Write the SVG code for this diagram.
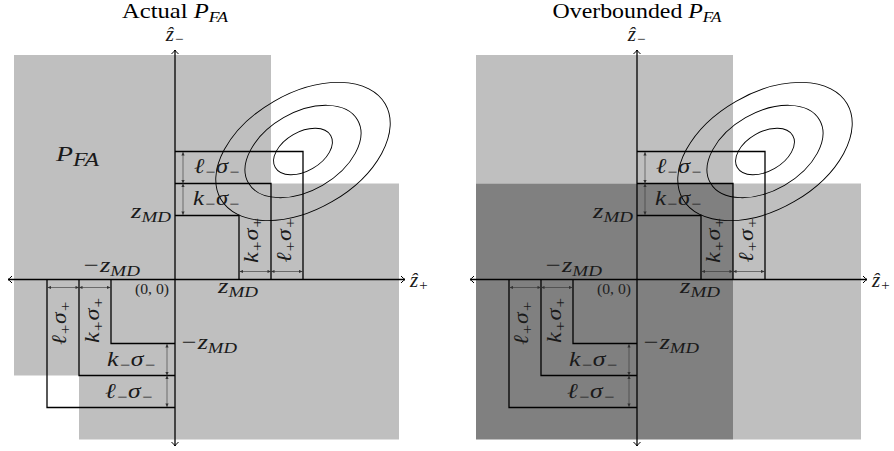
<svg xmlns="http://www.w3.org/2000/svg" width="894" height="451" viewBox="0 0 894 451">
<defs>
<style>
.t{font-family:"Liberation Serif","DejaVu Serif",serif;font-size:21px;fill:#000}
.m{font-family:"Liberation Serif","DejaVu Serif",serif;font-style:italic;font-size:21px;fill:#1a1a1a}
.s{font-size:15px}
.z{font-family:"Liberation Serif","DejaVu Serif",serif;font-size:15px;fill:#222}
.ln{fill:none;stroke:#000;stroke-width:1.3}
.dm{fill:none;stroke:#333;stroke-width:0.6;marker-start:url(#dh);marker-end:url(#dh)}
.el{fill:none;stroke:#000;stroke-width:0.9}
.ax{fill:none;stroke:#000;stroke-width:1.3;marker-start:url(#ah);marker-end:url(#ah)}
.lg{fill:#bfbfbf}
.dk{fill:#808080}
</style>
<marker id="ah" markerUnits="userSpaceOnUse" viewBox="-5 -5 6 10" refX="0" refY="0" markerWidth="6" markerHeight="10" orient="auto-start-reverse"><path d="M-4,-3.5 Q-1.5,-0.8 0,0 Q-1.5,0.8 -4,3.5" fill="none" stroke="#000" stroke-width="1"/></marker>
<marker id="dh" markerUnits="userSpaceOnUse" viewBox="-4 -2 4.5 4" refX="0" refY="0" markerWidth="4.5" markerHeight="4" orient="auto-start-reverse"><path d="M-3.5,-1.6 L0,0 L-3.5,1.6 Z" fill="#333"/></marker>
</defs>

<!-- LEFT PANEL: Actual -->
<g id="left-fills">
<path class="lg" d="M14,55 H271 V183.5 H399 V439.5 H79 V375.5 H14 Z"/>
</g>
<g id="left-ellipses">
<g transform="translate(303,151.5) rotate(-30)">
<ellipse class="el" rx="95" ry="58"/>
<ellipse class="el" rx="63" ry="39"/>
<ellipse class="el" rx="32" ry="19.5"/>
</g>
</g>
<g id="left-boxes">
<path class="ln" d="M175,151.5 H303 V279.5"/>
<path class="ln" d="M175,183.5 H271 V279.5"/>
<path class="ln" d="M175,215.5 H239 V279.5"/>
<path class="ln" d="M175,343.5 H111 V279.5"/>
<path class="ln" d="M175,375.5 H79 V279.5"/>
<path class="ln" d="M175,407.5 H47 V279.5"/>
</g>
<g id="left-dims">
<path class="dm" d="M183,152 V183.5"/>
<path class="dm" d="M183,183.5 V215"/>
<path class="dm" d="M239.5,271.5 H271"/>
<path class="dm" d="M271,271.5 H302.5"/>
<path class="dm" d="M47.5,287.5 H79"/>
<path class="dm" d="M79,287.5 H110.5"/>
<path class="dm" d="M167,344 V375.5"/>
<path class="dm" d="M167,375.5 V407"/>
</g>
<g id="left-axes">
<path class="ax" d="M8,279.5 H405"/>
<path class="ax" d="M175,50 V446"/>
</g>
<g id="left-labels">
<text class="t" x="175" y="17.5" text-anchor="middle" textLength="106" lengthAdjust="spacingAndGlyphs">Actual <tspan font-style="italic">P</tspan><tspan font-style="italic" class="s" dy="4">FA</tspan></text>
<text class="m" x="175" y="40.5" text-anchor="middle">ẑ<tspan class="s" dy="3">−</tspan></text>
<text class="m" x="410" y="287">ẑ<tspan class="s" dy="3">+</tspan></text>
<text class="m" x="56" y="161" font-size="31px" textLength="43" lengthAdjust="spacingAndGlyphs">P<tspan font-size="18px" dy="5">FA</tspan></text>
<text class="m" x="194" y="173" textLength="46" lengthAdjust="spacingAndGlyphs">ℓ<tspan class="s" dy="4">−</tspan><tspan dy="-4">σ</tspan><tspan class="s" dy="4">−</tspan></text>
<text class="m" x="193" y="205" textLength="47" lengthAdjust="spacingAndGlyphs">k<tspan class="s" dy="4">−</tspan><tspan dy="-4">σ</tspan><tspan class="s" dy="4">−</tspan></text>
<text class="m" x="171" y="218" text-anchor="end" textLength="40" lengthAdjust="spacingAndGlyphs">z<tspan class="s" dy="4">MD</tspan></text>
<text class="m" transform="translate(251,240) rotate(-90)" x="0" y="7" text-anchor="middle" textLength="46" lengthAdjust="spacingAndGlyphs">k<tspan class="s" dy="4">+</tspan><tspan dy="-4">σ</tspan><tspan class="s" dy="4">+</tspan></text>
<text class="m" transform="translate(284,240) rotate(-90)" x="0" y="7" text-anchor="middle" textLength="45" lengthAdjust="spacingAndGlyphs">ℓ<tspan class="s" dy="4">+</tspan><tspan dy="-4">σ</tspan><tspan class="s" dy="4">+</tspan></text>
<text class="m" x="82" y="272" textLength="58" lengthAdjust="spacingAndGlyphs">−z<tspan class="s" dy="4">MD</tspan></text>
<text class="m" x="218" y="293" textLength="40" lengthAdjust="spacingAndGlyphs">z<tspan class="s" dy="4">MD</tspan></text>
<text class="z" x="135" y="294" textLength="34" lengthAdjust="spacingAndGlyphs">(0, 0)</text>
<text class="m" x="180" y="349" textLength="57" lengthAdjust="spacingAndGlyphs">−z<tspan class="s" dy="4">MD</tspan></text>
<text class="m" x="107" y="366" textLength="49" lengthAdjust="spacingAndGlyphs">k<tspan class="s" dy="4">−</tspan><tspan dy="-4">σ</tspan><tspan class="s" dy="4">−</tspan></text>
<text class="m" x="105" y="398" textLength="48" lengthAdjust="spacingAndGlyphs">ℓ<tspan class="s" dy="4">−</tspan><tspan dy="-4">σ</tspan><tspan class="s" dy="4">−</tspan></text>
<text class="m" transform="translate(59,323) rotate(-90)" x="0" y="7" text-anchor="middle" textLength="44" lengthAdjust="spacingAndGlyphs">ℓ<tspan class="s" dy="4">+</tspan><tspan dy="-4">σ</tspan><tspan class="s" dy="4">+</tspan></text>
<text class="m" transform="translate(92,320) rotate(-90)" x="0" y="7" text-anchor="middle" textLength="46" lengthAdjust="spacingAndGlyphs">k<tspan class="s" dy="4">+</tspan><tspan dy="-4">σ</tspan><tspan class="s" dy="4">+</tspan></text>
</g>

<!-- RIGHT PANEL: Overbounded -->
<g id="right-fills">
<rect class="lg" x="476" y="55" width="257" height="128.5"/>
<rect class="lg" x="733" y="183.5" width="128" height="256"/>
<rect class="dk" x="476" y="183.5" width="257" height="256"/>
</g>
<g id="right-ellipses">
<g transform="translate(765,151.5) rotate(-30)">
<ellipse class="el" rx="95" ry="58"/>
<ellipse class="el" rx="63" ry="39"/>
<ellipse class="el" rx="32" ry="19.5"/>
</g>
</g>
<g id="right-boxes">
<path class="ln" d="M637,151.5 H765 V279.5"/>
<path class="ln" d="M637,183.5 H733 V279.5"/>
<path class="ln" d="M637,215.5 H701 V279.5"/>
<path class="ln" d="M637,343.5 H573 V279.5"/>
<path class="ln" d="M637,375.5 H541 V279.5"/>
<path class="ln" d="M637,407.5 H509 V279.5"/>
</g>
<g id="right-dims">
<path class="dm" d="M645,152 V183.5"/>
<path class="dm" d="M645,183.5 V215"/>
<path class="dm" d="M701.5,271.5 H733"/>
<path class="dm" d="M733,271.5 H764.5"/>
<path class="dm" d="M509.5,287.5 H541"/>
<path class="dm" d="M541,287.5 H572.5"/>
<path class="dm" d="M629,344 V375.5"/>
<path class="dm" d="M629,375.5 V407"/>
</g>
<g id="right-axes">
<path class="ax" d="M470,279.5 H867"/>
<path class="ax" d="M637,50 V446"/>
</g>
<g id="right-labels">
<text class="t" x="637" y="17.5" text-anchor="middle" textLength="169" lengthAdjust="spacingAndGlyphs">Overbounded <tspan font-style="italic">P</tspan><tspan font-style="italic" class="s" dy="4">FA</tspan></text>
<text class="m" x="637" y="40.5" text-anchor="middle">ẑ<tspan class="s" dy="3">−</tspan></text>
<text class="m" x="872" y="287">ẑ<tspan class="s" dy="3">+</tspan></text>
<text class="m" x="656" y="173" textLength="46" lengthAdjust="spacingAndGlyphs">ℓ<tspan class="s" dy="4">−</tspan><tspan dy="-4">σ</tspan><tspan class="s" dy="4">−</tspan></text>
<text class="m" x="655" y="205" textLength="47" lengthAdjust="spacingAndGlyphs">k<tspan class="s" dy="4">−</tspan><tspan dy="-4">σ</tspan><tspan class="s" dy="4">−</tspan></text>
<text class="m" x="633" y="218" text-anchor="end" textLength="40" lengthAdjust="spacingAndGlyphs">z<tspan class="s" dy="4">MD</tspan></text>
<text class="m" transform="translate(713,240) rotate(-90)" x="0" y="7" text-anchor="middle" textLength="46" lengthAdjust="spacingAndGlyphs">k<tspan class="s" dy="4">+</tspan><tspan dy="-4">σ</tspan><tspan class="s" dy="4">+</tspan></text>
<text class="m" transform="translate(746,240) rotate(-90)" x="0" y="7" text-anchor="middle" textLength="45" lengthAdjust="spacingAndGlyphs">ℓ<tspan class="s" dy="4">+</tspan><tspan dy="-4">σ</tspan><tspan class="s" dy="4">+</tspan></text>
<text class="m" x="544" y="272" textLength="58" lengthAdjust="spacingAndGlyphs">−z<tspan class="s" dy="4">MD</tspan></text>
<text class="m" x="680" y="293" textLength="40" lengthAdjust="spacingAndGlyphs">z<tspan class="s" dy="4">MD</tspan></text>
<text class="z" x="597" y="294" textLength="34" lengthAdjust="spacingAndGlyphs">(0, 0)</text>
<text class="m" x="642" y="349" textLength="57" lengthAdjust="spacingAndGlyphs">−z<tspan class="s" dy="4">MD</tspan></text>
<text class="m" x="569" y="366" textLength="49" lengthAdjust="spacingAndGlyphs">k<tspan class="s" dy="4">−</tspan><tspan dy="-4">σ</tspan><tspan class="s" dy="4">−</tspan></text>
<text class="m" x="567" y="398" textLength="48" lengthAdjust="spacingAndGlyphs">ℓ<tspan class="s" dy="4">−</tspan><tspan dy="-4">σ</tspan><tspan class="s" dy="4">−</tspan></text>
<text class="m" transform="translate(521,323) rotate(-90)" x="0" y="7" text-anchor="middle" textLength="44" lengthAdjust="spacingAndGlyphs">ℓ<tspan class="s" dy="4">+</tspan><tspan dy="-4">σ</tspan><tspan class="s" dy="4">+</tspan></text>
<text class="m" transform="translate(554,320) rotate(-90)" x="0" y="7" text-anchor="middle" textLength="46" lengthAdjust="spacingAndGlyphs">k<tspan class="s" dy="4">+</tspan><tspan dy="-4">σ</tspan><tspan class="s" dy="4">+</tspan></text>
</g>
</svg>
